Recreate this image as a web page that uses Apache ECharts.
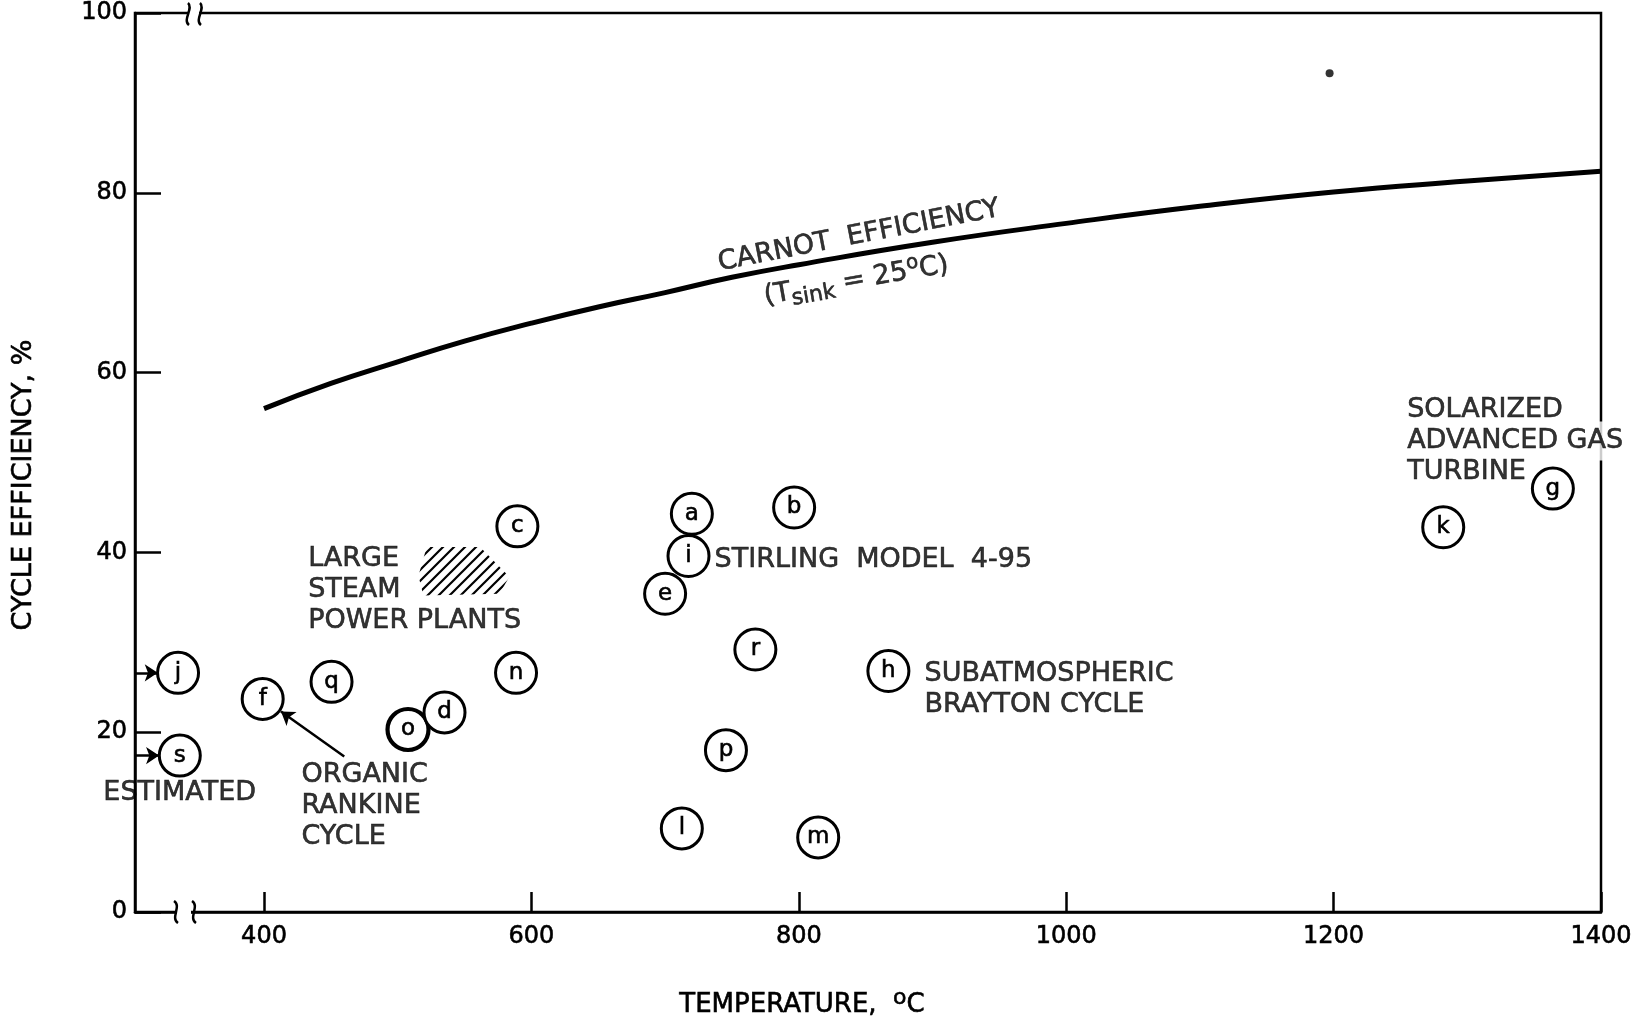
<!DOCTYPE html>
<html>
<head>
<meta charset="utf-8">
<script src="https://cdn.jsdelivr.net/npm/echarts@6/dist/echarts.min.js"></script>
<style>
html,body{margin:0;padding:0;background:#fff;}
#chart{width:1648px;height:1022px;}
</style>
</head>
<body>
<div id="chart"></div>
<script>
// ---- data ----
const temperatureTicks = [400, 600, 800, 1000, 1200, 1400];
const efficiencyTicks = [0, 20, 40, 60, 80, 100];

const carnotTemps = [400, 450, 500, 550, 600, 650, 700, 750, 800, 900, 1000, 1100, 1200, 1300, 1400];
const carnotEffs  = [56.0, 58.8, 61.2, 63.5, 65.5, 67.3, 68.9, 70.6, 72.0, 74.5, 76.6, 78.5, 80.1, 81.3, 82.4];

const engineIds   = ['j', 's', 'f', 'q', 'o', 'd', 'n', 'c', 'a', 'b', 'i', 'e', 'r', 'h', 'p', 'l', 'm', 'k', 'g'];
const engineTemps = [335.7, 337, 399, 450.5, 507.7, 535, 588.5, 589.5, 720, 796.5, 717.5, 700, 767.5, 867, 745.5, 712.5, 814.5, 1282, 1364];
const engineEffs  = [26.6, 17.4, 23.7, 25.6, 20.3, 22.2, 26.6, 42.9, 44.3, 45.0, 39.6, 35.4, 29.2, 26.8, 18.0, 9.3, 8.3, 42.8, 47.1];

const strayDotTemp = [1197];
const strayDotEff  = [93.3];

// large steam power plants region (hatched), corners in data units
const steamRegionTemps = [521.7, 561.6, 583.5, 576.1, 519.2, 515.5];
const steamRegionEffs  = [40.6, 40.6, 37.3, 35.4, 35.2, 37.4];

const xAxisTitle = 'TEMPERATURE,';
const yAxisTitle = 'CYCLE EFFICIENCY, %';

// ---- chart ----
const FONT = 'DejaVu Sans';
const INK = '#000';
const chart = echarts.init(document.getElementById('chart'));

function hatchPattern() {
  const c = document.createElement('canvas');
  c.width = 11; c.height = 11;
  const g = c.getContext('2d');
  g.strokeStyle = '#000';
  g.lineWidth = 2.2;
  g.beginPath();
  g.moveTo(0, 11); g.lineTo(11, 0);
  g.moveTo(-2, 2); g.lineTo(2, -2);
  g.moveTo(9, 13); g.lineTo(13, 9);
  g.stroke();
  return c;
}
const pattern = hatchPattern();

const engineData = engineIds.map((id, k) => ({
  value: [engineTemps[k], engineEffs[k], id],
  itemStyle: id === 'o' ? { borderWidth: 4.2 } : undefined
}));

const carnotData = carnotTemps.map((t, k) => [t, carnotEffs[k]]);
const regionData = steamRegionTemps.map((t, k) => [t, steamRegionEffs[k]]);

const bold = { textBorderColor: INK, textBorderWidth: 0.6 };
const noteStyle = Object.assign({ color: INK, fontFamily: FONT, fontSize: 27, lineHeight: 31 }, bold);
const richBase = Object.assign({ color: INK, fontFamily: FONT }, bold);
const notes = [
  { at: [433, 35.8], text: 'LARGE\nSTEAM\nPOWER PLANTS', align: 'left' },
  { at: [737, 39.2], text: 'STIRLING  MODEL  4-95', align: 'left' },
  { at: [894, 24.8], text: 'SUBATMOSPHERIC\nBRAYTON CYCLE', align: 'left' },
  { at: [1255, 52.4], text: '{a|SOLARIZED}\n{b|ADVANCED GAS}\n{a|TURBINE}', align: 'left',
    rich: { a: Object.assign({ fontSize: 27, lineHeight: 31 }, richBase), b: Object.assign({ fontSize: 27, lineHeight: 31, backgroundColor: '#fff', padding: [6, 0, 6, 0] }, richBase) } },
  { at: [394, 13.2], text: 'ESTIMATED', align: 'right' },
  { at: [428, 11.75], text: 'ORGANIC\nRANKINE\nCYCLE', align: 'left' },
  { at: [845, 75.2], text: 'CARNOT  EFFICIENCY', align: 'center', rotate: 11 },
  { at: [843, 70.2], text: '{n|(T}{sub|sink}{n| = 25}{sup|o}{n|C)}', align: 'center', rotate: 10,
    rich: {
      n: Object.assign({ fontSize: 27, lineHeight: 36 }, richBase),
      sub: Object.assign({ fontSize: 22, lineHeight: 20, verticalAlign: 'bottom' }, richBase),
      sup: Object.assign({ fontSize: 20, lineHeight: 20, verticalAlign: 'top' }, richBase)
    } }
];

const noteData = notes.map(n => ({
  value: n.at,
  label: Object.assign({
    show: true, position: 'inside', formatter: n.text, align: n.align,
    verticalAlign: 'middle', rotate: n.rotate || 0, rich: n.rich
  }, noteStyle)
}));

const arrows = [
  { coords: [[303.5, 26.6], [320.5, 26.6]] },
  { coords: [[303.5, 17.4], [321.5, 17.4]] },
  { coords: [[460, 17.3], [412.7, 22.3]] }
];

const tickFont = Object.assign({ color: INK, fontSize: 24, fontFamily: FONT }, bold);

const option = {
  animation: false,
  backgroundColor: '#fff',
  grid: { left: 135, right: 47, top: 13, bottom: 110, show: true, borderColor: '#000', borderWidth: 2.5 },
  xAxis: {
    type: 'value', min: 303.5, max: 1400,
    axisLine: { show: true, onZero: false, lineStyle: { color: '#000', width: 2.5 } },
    splitLine: { show: false },
    axisTick: { show: true, inside: true, length: 20, customValues: temperatureTicks, lineStyle: { color: '#000', width: 2.5 } },
    axisLabel: Object.assign({ customValues: temperatureTicks, margin: 13, formatter: v => String(v) }, tickFont)
  },
  yAxis: {
    type: 'value', min: 0, max: 100,
    axisLine: { show: true, onZero: false, lineStyle: { color: '#000', width: 2.5 } },
    splitLine: { show: false },
    axisTick: { show: true, inside: true, length: 26, customValues: efficiencyTicks, lineStyle: { color: '#000', width: 2.5 } },
    axisLabel: Object.assign({ customValues: efficiencyTicks, margin: 8, formatter: v => String(v) }, tickFont)
  },
  graphic: [
    // axis breaks (bottom)
    { type: 'rect', z: 100, shape: { x: 177, y: 904, width: 14, height: 16 }, style: { fill: '#fff' } },
    { type: 'bezierCurve', z: 101, shape: { x1: 174, y1: 901, cpx1: 182, cpy1: 906, cpx2: 170, cpy2: 918, x2: 178, y2: 923 }, style: { stroke: '#000', lineWidth: 2.5, fill: null } },
    { type: 'bezierCurve', z: 101, shape: { x1: 192, y1: 901, cpx1: 200, cpy1: 906, cpx2: 188, cpy2: 918, x2: 196, y2: 923 }, style: { stroke: '#000', lineWidth: 2.5, fill: null } },
    // axis breaks (top)
    { type: 'rect', z: 100, shape: { x: 189, y: 5, width: 10, height: 16 }, style: { fill: '#fff' } },
    { type: 'bezierCurve', z: 101, shape: { x1: 188, y1: 3, cpx1: 194, cpy1: 8, cpx2: 182, cpy2: 20, x2: 189, y2: 25 }, style: { stroke: '#000', lineWidth: 2.5, fill: null } },
    { type: 'bezierCurve', z: 101, shape: { x1: 200, y1: 3, cpx1: 206, cpy1: 8, cpx2: 194, cpy2: 20, x2: 201, y2: 25 }, style: { stroke: '#000', lineWidth: 2.5, fill: null } },
    // axis titles
    { type: 'text', z: 100, x: 802, y: 1005,
      style: { text: '{n|' + xAxisTitle + '  }{sup|o}{n|C}', align: 'center', verticalAlign: 'middle', fill: INK,
        rich: { n: { fontSize: 26, fontFamily: FONT, lineHeight: 36, fill: INK, stroke: INK, lineWidth: 0.6 }, sup: { fontSize: 22, fontFamily: FONT, lineHeight: 22, verticalAlign: 'top', fill: INK, stroke: INK, lineWidth: 0.6 } } } },
    { type: 'text', z: 100, x: 24, y: 485, rotation: Math.PI / 2,
      style: { text: yAxisTitle, align: 'center', verticalAlign: 'middle', fill: INK, stroke: INK, lineWidth: 0.6, fontSize: 27, fontFamily: FONT } }
  ],
  series: [
    {
      type: 'custom', name: 'steam', z: 2,
      renderItem: function (params, api) {
        const pts = regionData.map(p => api.coord(p));
        return { type: 'polygon', shape: { points: pts }, style: { fill: { image: pattern, repeat: 'repeat' }, stroke: null } };
      },
      data: [0]
    },
    {
      type: 'line', name: 'carnot', data: carnotData, smooth: true, showSymbol: false, symbol: 'none',
      lineStyle: { color: '#000', width: 5 }, z: 3
    },
    {
      type: 'lines', coordinateSystem: 'cartesian2d', data: arrows, z: 4,
      symbol: ['none', 'arrow'], symbolSize: [0, 13],
      lineStyle: { color: '#000', width: 2.5, opacity: 1 }
    },
    {
      type: 'scatter', name: 'dot', data: strayDotTemp.map((t, k) => [t, strayDotEff[k]]),
      symbolSize: 8, itemStyle: { color: '#000' }, z: 5
    },
    {
      type: 'scatter', name: 'engines', data: engineData, symbol: 'circle', symbolSize: 41, z: 6,
      itemStyle: { color: '#fff', borderColor: '#000', borderWidth: 3, opacity: 1 },
      label: Object.assign({ show: true, position: 'inside', formatter: p => p.value[2], color: INK, fontSize: 23, fontFamily: FONT }, bold)
    },
    {
      type: 'scatter', name: 'notes', data: noteData, symbolSize: 1, z: 7,
      itemStyle: { color: 'rgba(0,0,0,0)' }
    }
  ]
};
chart.setOption(option);
</script>
</body>
</html>
